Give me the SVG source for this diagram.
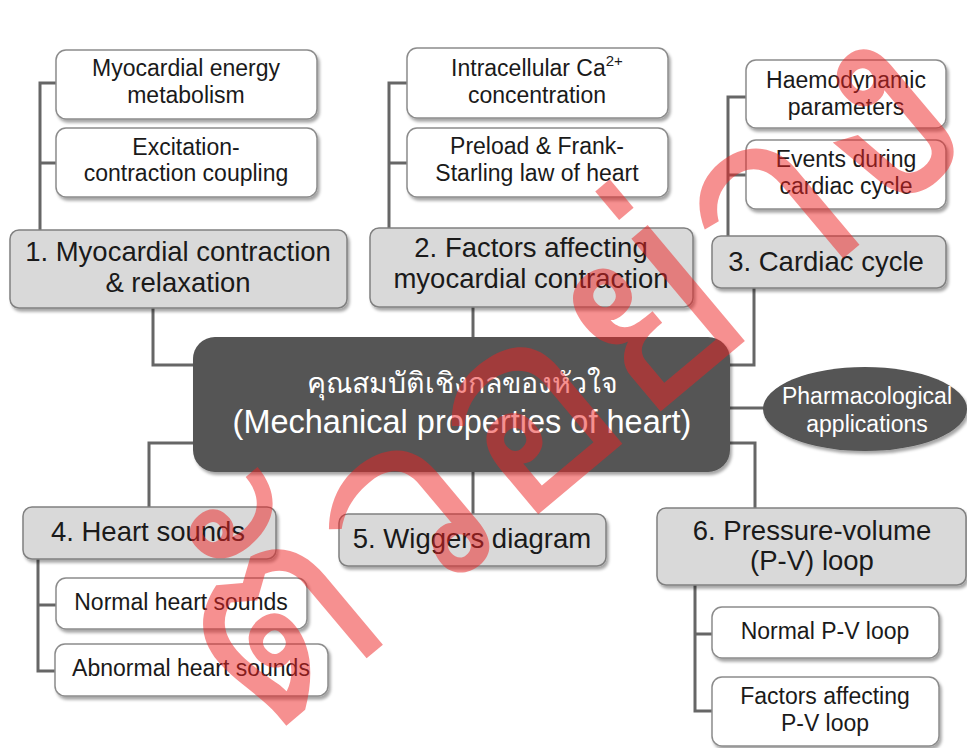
<svg xmlns="http://www.w3.org/2000/svg" width="967" height="748" viewBox="0 0 967 748">
<style>
  .main rect { fill:#d9d9d9; stroke:#808080; stroke-width:1.5; }
  .sub rect { fill:#ffffff; stroke:#8c8c8c; stroke-width:1.5; }
  .main text { font-family:"Liberation Sans", Arial, sans-serif; font-size:27.5px; fill:#1a1a1a; text-anchor:middle; }
  .sub text { font-family:"Liberation Sans", Arial, sans-serif; font-size:23px; fill:#1a1a1a; text-anchor:middle; }
  .dark { fill:#545454; }
  .light { font-family:"Liberation Sans", "Noto Sans", sans-serif; fill:#ffffff; text-anchor:middle; }
  #connectors path { fill:none; stroke:#666666; stroke-width:3; }
  .wm { font-family:"Noto Sans", "DejaVu Sans", sans-serif; font-size:272px; fill:#ee2222; fill-opacity:0.5; text-anchor:middle; }
</style>
<defs>
  <filter id="sh" x="-10%" y="-10%" width="125%" height="135%">
    <feDropShadow dx="2" dy="3" stdDeviation="1.6" flood-color="#000" flood-opacity="0.35"/>
  </filter>
</defs>

<g id="connectors">
  <path d="M56,83 H40 V230 M40,163 H56"/>
  <path d="M153,308 V365 H195"/>
  <path d="M407,83 H389 V228 M389,163 H407"/>
  <path d="M473,307 V338"/>
  <path d="M746,97 H728 V236 M728,175 H746"/>
  <path d="M754,288 V365 H730"/>
  <path d="M730,408 H764"/>
  <path d="M195,443 H149 V507"/>
  <path d="M473,472 V514"/>
  <path d="M730,443 H755 V508"/>
  <path d="M38,559 V671 H56 M38,605 H56"/>
  <path d="M695,585 V711 H712 M695,634 H712"/>
</g>

<g id="n1a" class="sub"><rect x="56" y="50" width="261" height="69" rx="10" filter="url(#sh)"/>
  <text x="186" y="76">Myocardial energy</text><text x="186" y="103">metabolism</text></g>
<g id="n1b" class="sub"><rect x="56" y="128" width="261" height="69" rx="10" filter="url(#sh)"/>
  <text x="186" y="155">Excitation-</text><text x="186" y="181">contraction coupling</text></g>
<g id="n1" class="main"><rect x="10" y="230" width="337" height="78" rx="9" filter="url(#sh)"/>
  <text x="178" y="261">1. Myocardial contraction</text><text x="178" y="292">&amp; relaxation</text></g>

<g id="n2a" class="sub"><rect x="407" y="48" width="261" height="70" rx="10" filter="url(#sh)"/>
  <text x="537" y="76">Intracellular Ca<tspan font-size="15" dy="-10">2+</tspan></text><text x="537" y="103">concentration</text></g>
<g id="n2b" class="sub"><rect x="407" y="128" width="261" height="69" rx="10" filter="url(#sh)"/>
  <text x="537" y="154">Preload &amp; Frank-</text><text x="537" y="181">Starling law of heart</text></g>
<g id="n2" class="main"><rect x="370" y="228" width="323" height="79" rx="9" filter="url(#sh)"/>
  <text x="531" y="257">2. Factors affecting</text><text x="531" y="288">myocardial contraction</text></g>

<g id="n3a" class="sub"><rect x="746" y="60" width="200" height="68" rx="10" filter="url(#sh)"/>
  <text x="846" y="88">Haemodynamic</text><text x="846" y="115">parameters</text></g>
<g id="n3b" class="sub"><rect x="746" y="140" width="200" height="69" rx="10" filter="url(#sh)"/>
  <text x="846" y="167">Events during</text><text x="846" y="194">cardiac cycle</text></g>
<g id="n3" class="main"><rect x="712" y="236" width="234" height="52" rx="9" filter="url(#sh)"/>
  <text x="826" y="271">3. Cardiac cycle</text></g>

<g id="center"><rect class="dark" x="193" y="337" width="537" height="135" rx="22" filter="url(#sh)"/>
  <text class="light" x="462" y="393" font-size="28.5">คุณสมบัติเชิงกลของหัวใจ</text>
  <text class="light" x="462" y="433" font-size="32.5">(Mechanical properties of heart)</text></g>

<g id="pharm"><ellipse class="dark" cx="865" cy="409" rx="102" ry="42" filter="url(#sh)"/>
  <text class="light" x="867" y="404" font-size="23">Pharmacological</text>
  <text class="light" x="867" y="432" font-size="23">applications</text></g>

<g id="n4" class="main"><rect x="23" y="507" width="253" height="52" rx="9" filter="url(#sh)"/>
  <text x="148" y="541">4. Heart sounds</text></g>
<g id="n4a" class="sub"><rect x="56" y="578" width="251" height="51" rx="10" filter="url(#sh)"/>
  <text x="181" y="610">Normal heart sounds</text></g>
<g id="n4b" class="sub"><rect x="55" y="644" width="273" height="52" rx="10" filter="url(#sh)"/>
  <text x="191" y="676">Abnormal heart sounds</text></g>

<g id="n5" class="main"><rect x="339" y="514" width="267" height="52" rx="9" filter="url(#sh)"/>
  <text x="472" y="548">5. Wiggers diagram</text></g>

<g id="n6" class="main"><rect x="657" y="508" width="309" height="77" rx="9" filter="url(#sh)"/>
  <text x="812" y="540">6. Pressure-volume</text><text x="812" y="570">(P-V) loop</text></g>
<g id="n6a" class="sub"><rect x="712" y="607" width="227" height="51" rx="10" filter="url(#sh)"/>
  <text x="825" y="639">Normal P-V loop</text></g>
<g id="n6b" class="sub"><rect x="712" y="677" width="227" height="69" rx="10" filter="url(#sh)"/>
  <text x="825" y="704">Factors affecting</text><text x="825" y="731">P-V loop</text></g>

<g id="watermark"><text class="wm" transform="translate(622,444) rotate(-40)">ตัวอย่าง</text></g>
</svg>
